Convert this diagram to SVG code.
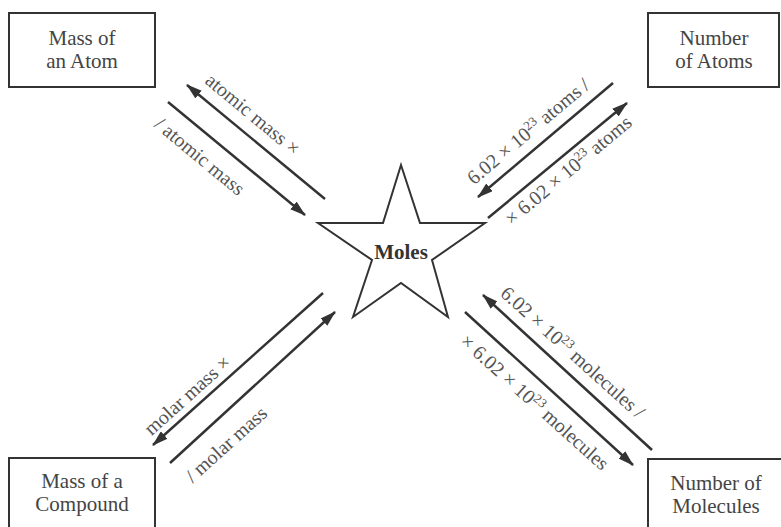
<svg xmlns="http://www.w3.org/2000/svg" width="781" height="527" viewBox="0 0 781 527">
<style>
.box{fill:#fff;stroke:#333;stroke-width:2}
.bt{font-family:"Liberation Serif",serif;font-size:21px;fill:#444;text-anchor:middle}
.lb{font-family:"Liberation Serif",serif;font-size:20px;fill:#555;text-anchor:middle}
.ar{stroke:#333;stroke-width:2.5;fill:none;marker-end:url(#ah)}
.sup{font-size:13px}
</style>
<defs>
<marker id="ah" viewBox="0 0 16 10" refX="15" refY="5" markerWidth="16" markerHeight="10" markerUnits="userSpaceOnUse" orient="auto">
<path d="M0,0 L16,5 L0,10 Z" fill="#333"/>
</marker>
</defs>
<rect width="781" height="527" fill="#fff"/>
<g id="mass-atom">
<rect class="box" x="9" y="13" width="146" height="74"/>
<text class="bt" x="82" y="45">Mass of</text>
<text class="bt" x="82" y="68">an Atom</text>
</g>
<g id="number-atoms">
<rect class="box" x="648" y="13" width="131" height="74"/>
<text class="bt" x="714" y="45">Number</text>
<text class="bt" x="714" y="68">of Atoms</text>
</g>
<g id="mass-compound">
<rect class="box" x="9" y="458" width="146" height="80"/>
<text class="bt" x="82" y="488">Mass of a</text>
<text class="bt" x="82" y="511">Compound</text>
</g>
<g id="number-molecules">
<rect class="box" x="648" y="459" width="140" height="80"/>
<text class="bt" x="716" y="490">Number of</text>
<text class="bt" x="716" y="513">Molecules</text>
</g>
<g id="moles">
<polygon points="401,165 420,223 485,223 432,260 448,317 401,283 353,317 372,260 318,223 383,223" fill="#fff" stroke="#333" stroke-width="2"/>
<text x="401" y="259" font-family="Liberation Serif, serif" font-size="21" font-weight="bold" fill="#333" text-anchor="middle">Moles</text>
</g>
<g id="connectors">
<line class="ar" x1="325" y1="199" x2="187" y2="85"/>
<line class="ar" x1="168" y1="102" x2="305" y2="215"/>
<line class="ar" x1="613" y1="83" x2="478" y2="197"/>
<line class="ar" x1="488" y1="218" x2="627" y2="103"/>
<line class="ar" x1="323" y1="293" x2="153" y2="445"/>
<line class="ar" x1="170" y1="463" x2="335" y2="312"/>
<line class="ar" x1="652" y1="450" x2="483" y2="295"/>
<line class="ar" x1="465" y1="312" x2="633" y2="465"/>
</g>
<g id="labels">
<text class="lb" transform="translate(253,114) rotate(39.6)" dy="0.35em">atomic mass ×</text>
<text class="lb" transform="translate(200,156) rotate(39.6)" dy="0.35em">/ atomic mass</text>
<text class="lb" transform="translate(528,131) rotate(-40)" dy="0.35em">6.02 × 10<tspan class="sup" dy="-7">23</tspan><tspan dy="7"> atoms /</tspan></text>
<text class="lb" transform="translate(568,170) rotate(-40)" dy="0.35em">× 6.02 × 10<tspan class="sup" dy="-7">23</tspan><tspan dy="7"> atoms</tspan></text>
<text class="lb" transform="translate(187,395) rotate(-42)" dy="0.35em">molar mass ×</text>
<text class="lb" transform="translate(226,444) rotate(-42)" dy="0.35em">/ molar mass</text>
<text class="lb" transform="translate(573,352) rotate(42)" dy="0.35em">6.02 × 10<tspan class="sup" dy="-7">23</tspan><tspan dy="7"> molecules /</tspan></text>
<text class="lb" transform="translate(535,402) rotate(42)" dy="0.35em">× 6.02 × 10<tspan class="sup" dy="-7">23</tspan><tspan dy="7"> molecules</tspan></text>
</g>
</svg>
